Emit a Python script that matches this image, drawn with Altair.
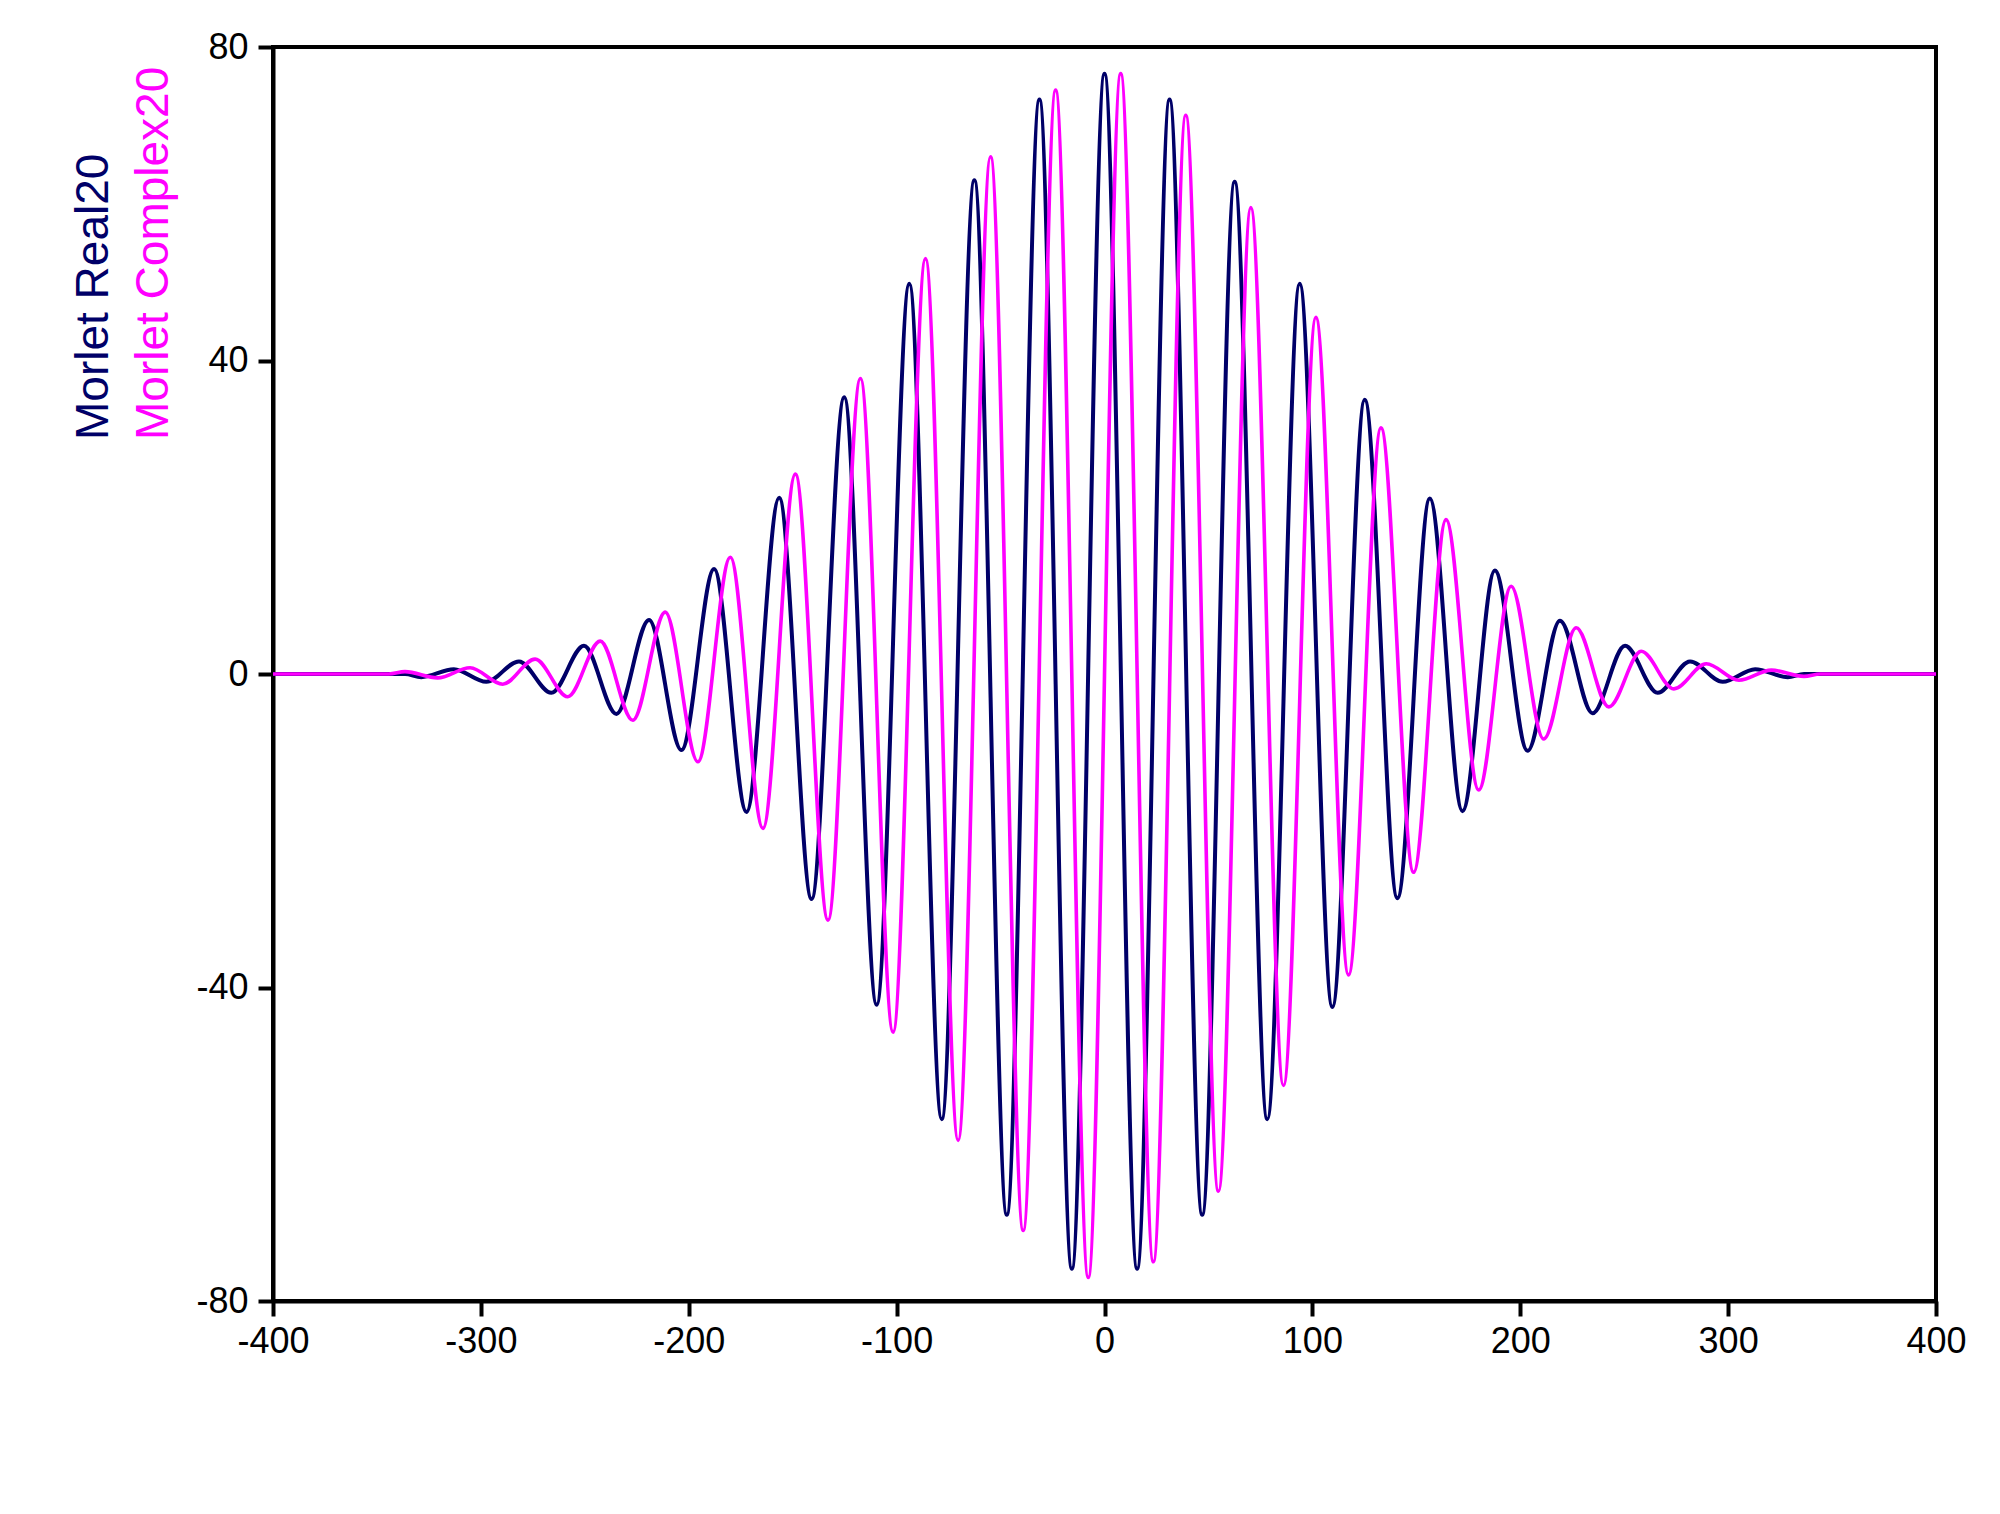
import altair as alt
import pandas as pd

# ---- values (extrema of each wave) ----
real_x = [-400, -336.5, -328.7, -313.0, -297.4, -281.7, -266.1, -250.4, -234.8, -219.1,
          -203.5, -187.8, -172.2, -156.5, -140.9, -125.2, -109.6, -93.9, -78.3, -62.6,
          -47.0, -31.3, -15.7, 0.0, 15.7, 31.3, 47.0, 62.6, 78.3, 93.9, 109.6, 125.2,
          140.9, 156.5, 172.2, 187.8, 203.5, 219.1, 234.8, 250.4, 266.1, 281.7, 297.4,
          313.0, 328.7, 336.5, 400]
real_y = [0, 0, -0.4, 0.6, -1.0, 1.6, -2.4, 3.6, -5.1, 6.9,
          -9.7, 13.4, -17.6, 22.5, -28.7, 35.3, -42.2, 49.8, -56.8, 63.0,
          -69.0, 73.3, -75.9, 76.6, -75.9, 73.3, -69.0, 62.8, -56.8, 49.8, -42.5, 35.0,
          -28.6, 22.4, -17.5, 13.2, -9.8, 6.8, -5.0, 3.6, -2.4, 1.6, -1.0,
          0.6, -0.4, 0, 0]

cplx_x = [-400, -344.3, -336.5, -320.8, -305.2, -289.5, -273.9, -258.2, -242.6, -226.9,
          -211.3, -195.6, -180.0, -164.3, -148.7, -133.0, -117.4, -101.7, -86.1, -70.4,
          -54.8, -39.1, -23.5, -7.8, 7.8, 23.5, 39.1, 54.8, 70.4, 86.1, 101.7, 117.4,
          133.0, 148.7, 164.3, 180.0, 195.6, 211.3, 226.9, 242.6, 258.2, 273.9, 289.5,
          305.2, 320.8, 336.5, 344.3, 400]
cplx_y = [0, 0, 0.3, -0.5, 0.8, -1.3, 1.9, -2.9, 4.2, -5.9,
          7.9, -11.2, 14.9, -19.7, 25.5, -31.4, 37.7, -45.7, 53.0, -59.5,
          66.0, -71.0, 74.5, -77.0, 76.6, -75.0, 71.3, -66.0, 59.5, -52.5, 45.5, -38.4,
          31.4, -25.3, 19.7, -14.8, 11.2, -8.3, 5.9, -4.2, 2.9, -1.9, 1.3,
          -0.8, 0.5, -0.3, 0, 0]

x_ticks = [-400, -300, -200, -100, 0, 100, 200, 300, 400]
y_ticks = [-80, -40, 0, 40, 80]
title_real = ["Morlet Real20"]
title_cplx = ["Morlet Complex20"]

NAVY = "#000068"
MAGENTA = "#ff00ff"
FONT = "Liberation Sans"

df_real = pd.DataFrame({"x": real_x, "y": real_y})
df_cplx = pd.DataFrame({"x": cplx_x, "y": cplx_y})

label_expr = "datum.value < 0 ? '-' + abs(datum.value) : '' + datum.value"

x_enc = alt.X("x:Q", scale=alt.Scale(domain=[-400, 400], nice=False, zero=False),
              axis=alt.Axis(values=x_ticks, title=None, labelExpr=label_expr,
                            labelFlush=False, labelOverlap=False, labelPadding=8))
y_enc = alt.Y("y:Q", scale=alt.Scale(domain=[-80, 80], nice=False),
              axis=alt.Axis(values=y_ticks, title=None, labelExpr=label_expr,
                            labelPadding=10, labelOverlap=False))

real_line = alt.Chart(df_real).mark_line(
    interpolate="monotone", color=NAVY, strokeWidth=4, clip=True
).encode(x=x_enc, y=y_enc)

cplx_line = alt.Chart(df_cplx).mark_line(
    interpolate="monotone", color=MAGENTA, strokeWidth=3.6, clip=True
).encode(x=x_enc, y=y_enc)

t_real = alt.Chart(pd.DataFrame({"t": title_real})).mark_text(
    angle=270, align="left", baseline="alphabetic", fontSize=46, font=FONT, color=NAVY
).encode(x=alt.value(-165), y=alt.value(393), text="t:N")

t_cplx = alt.Chart(pd.DataFrame({"t": title_cplx})).mark_text(
    angle=270, align="left", baseline="alphabetic", fontSize=46, font=FONT, color=MAGENTA
).encode(x=alt.value(-105), y=alt.value(393), text="t:N")

chart = alt.layer(real_line, cplx_line, t_real, t_cplx).properties(
    width=1663, height=1254,
    autosize=alt.AutoSizeParams(type="none"),
    padding={"left": 265, "top": 39, "right": 40, "bottom": 150},
    background="white",
).configure_view(
    stroke="black", strokeWidth=4
).configure_axis(
    grid=False, domainColor="black", domainWidth=4, tickColor="black", tickWidth=4,
    tickSize=15, labelFont=FONT, labelFontSize=36, labelColor="black"
)

chart.save("out.html", embed_options={"renderer": "svg", "actions": False})
